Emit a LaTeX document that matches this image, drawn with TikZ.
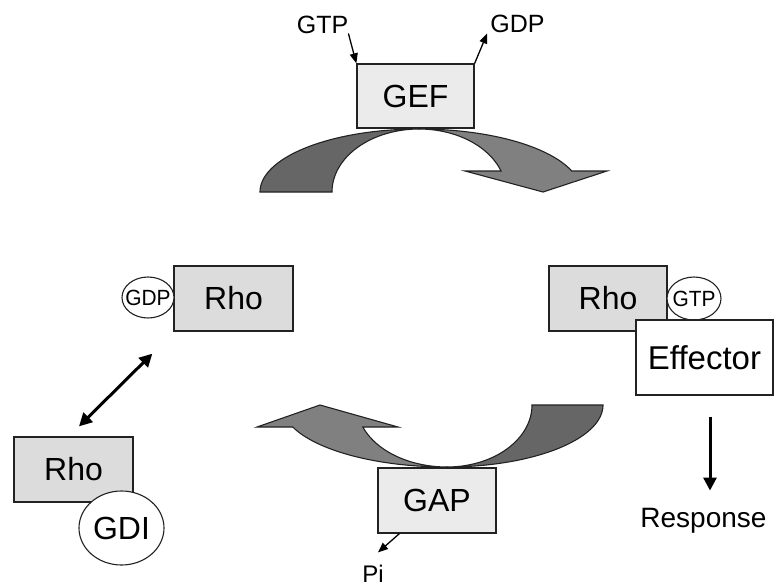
\documentclass[tikz,border=0pt]{standalone}
\usepackage{fontspec}
\setmainfont{Liberation Sans}
\usetikzlibrary{shapes.geometric,arrows.meta}
\definecolor{rhofill}{HTML}{DCDCDC}
\definecolor{enzfill}{HTML}{EBEBEB}
\definecolor{arrdark}{HTML}{666666}
\definecolor{arrlight}{HTML}{808080}
\definecolor{edge}{HTML}{222222}
\begin{document}
\begin{tikzpicture}[x=1pt,y=-1pt,
 box/.style={draw=edge,line width=1.3pt,rectangle,inner sep=0pt,font=\fontsize{32}{36}\selectfont},
 rhobox/.style={box,fill=rhofill,minimum width=119pt,minimum height=65pt},
 enzbox/.style={box,fill=enzfill,minimum width=118pt,minimum height=65pt},
 ell/.style={draw=edge,line width=1.1pt,ellipse,fill=white,inner sep=0pt},
 lbl/.style={inner sep=0pt,font=\fontsize{25}{28}\selectfont},
 smallarr/.style={draw=black,line width=1.3pt,-{Triangle[length=10pt,width=8pt]}},
 bigarr/.style={draw=black,line width=3pt,-{Triangle[length=13pt,width=13pt]}},
 curv/.style={draw=edge,line width=1.1pt,line join=miter}]
\useasboundingbox (0,0) rectangle (774,587);

% top curved arrow (GEF)
\filldraw[curv,fill=arrdark] plot[domain=180:90,samples=50] ({419+159*cos(\x)},{192-63*sin(\x)})
  -- plot[domain=90:180,samples=50] ({419+87*cos(\x)},{192-63*sin(\x)}) -- cycle;
\filldraw[curv,fill=arrlight] plot[domain=90:19.47,samples=50] ({419+162*cos(\x)},{192-63*sin(\x)})
  -- (607,171) -- (543,192) -- (465,171)
  -- plot[domain=19.47:90,samples=50] ({419+87*cos(\x)},{192-63*sin(\x)}) -- cycle;

% bottom curved arrow (GAP)
\filldraw[curv,fill=arrdark] plot[domain=0:90,samples=50] ({447+156*cos(\x)},{405+62*sin(\x)})
  -- plot[domain=90:0,samples=50] ({447+85*cos(\x)},{405+62*sin(\x)}) -- cycle;
\filldraw[curv,fill=arrlight] plot[domain=90:159.2,samples=50] ({447+165*cos(\x)},{405+62*sin(\x)})
  -- (257,427) -- (320,405) -- (398,427)
  -- plot[domain=159.2:90,samples=50] ({447+90*cos(\x)},{405+62*sin(\x)}) -- cycle;

% nodes
\node[enzbox,minimum width=117pt,minimum height=64pt] (gef) at (415.5,96) {GEF};
\node[enzbox] (gap) at (437,500.5) {GAP};
\node[rhobox] (rhoL) at (233.5,298.5) {Rho};
\node[rhobox,minimum width=118pt] (rhoR) at (608,298.5) {Rho};
\node[rhobox] (rhoLL) at (73.5,469.5) {Rho};
\node[ell,minimum width=52pt,minimum height=41pt,font=\fontsize{22}{24}\selectfont] (gdpE) at (148,297.5) {\makebox[0pt]{\scalebox{0.95}[1]{GDP}}};
\node[ell,minimum width=54pt,minimum height=43pt,font=\fontsize{22}{24}\selectfont] (gtpE) at (694,298.5) {\makebox[0pt]{\scalebox{0.95}[1]{GTP}}};
\node[box,fill=white,minimum width=137pt,minimum height=75pt,font=\fontsize{33}{36}\selectfont] (eff) at (704.5,357.5) {Effector};
\node[ell,minimum width=85pt,minimum height=74pt,font=\fontsize{32}{36}\selectfont] (gdi) at (121.5,528) {\makebox[0pt]{GDI}};

% labels
\node[lbl,anchor=base] (gtpL) at (322.5,33) {GTP};
\node[lbl,anchor=base] (gdpL) at (517.5,32) {GDP};
\node[lbl,anchor=base,font=\fontsize{24}{26}\selectfont] (pi) at (373,582) {Pi};
\node[lbl,anchor=base,font=\fontsize{28}{30}\selectfont] (resp) at (703.5,527) {Response};

% connectors
\draw[smallarr] (gtpL.south east) -- (gef.north west);
\draw[smallarr] (gef.north east) -- ([shift={(-3,1)}]gdpL.south west);
\draw[smallarr] ([shift={(22,0)}]gap.south west) -- ([shift={(5,-12)}]pi.north);
\draw[bigarr] ([shift={(5.5,21)}]eff.south) -- ([shift={(6.5,-17)}]resp.north);
\draw[bigarr,{Triangle[length=13pt,width=13pt]}-{Triangle[length=13pt,width=13pt]}]
  ([shift={(5.5,-10)}]rhoLL.north) -- ([shift={(-21,22)}]rhoL.south west);
\end{tikzpicture}
\end{document}
